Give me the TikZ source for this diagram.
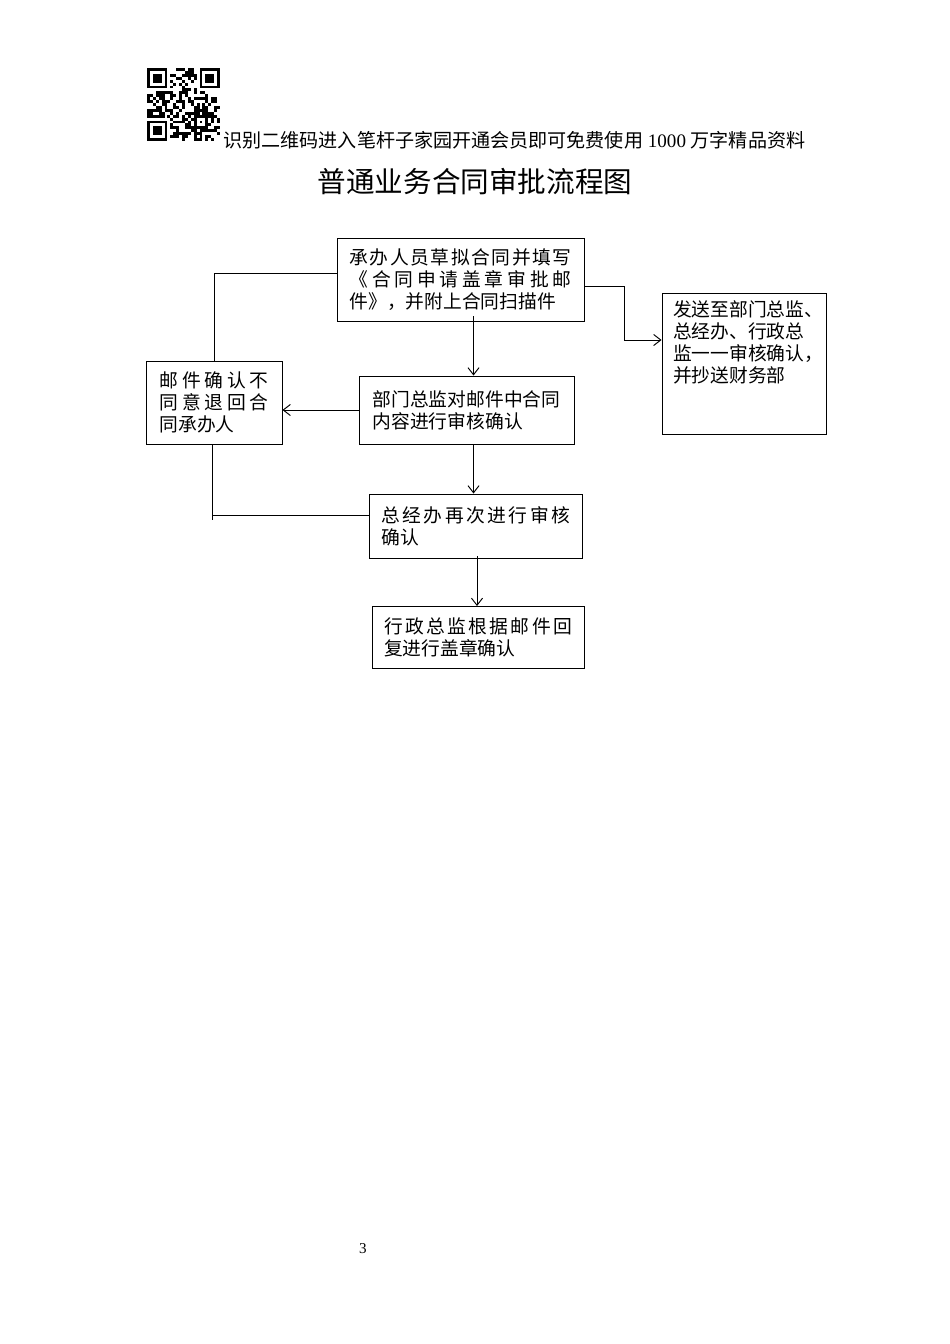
\documentclass[tikz,border=0pt]{standalone}
\usepackage{fontspec}
\setmainfont{Liberation Serif}
\newfontfamily\cjk{Noto Sans CJK SC}
\usetikzlibrary{arrows.meta,calc}

% one unit = one pixel of the page
\newdimen\pxlen \pxlen=0.02211cm
\def\spreadchars#1{\ifx#1\relax\else#1\hfil\expandafter\spreadchars\fi}
\newcommand\jline[2]{\hbox to #1\pxlen{\spreadchars#2\relax\unskip}}

\begin{document}
\begin{tikzpicture}[x=0.02211cm,y=-0.02211cm,line width=0.6pt,
  >={Straight Barb[length=4.5pt,width=7pt]},
  flowbox/.style 2 args={draw,inner sep=0pt,align=left,
    minimum width={#1*0.02211cm},minimum height={#2*0.02211cm},
    font=\cjk\fontsize{11.8pt}{13.7pt}\selectfont}]
\useasboundingbox (0,0) rectangle (950,1344);
% ---------- qr code ----------
\begin{scope}[shift={(147,68)},x=0.06456cm,y=-0.06456cm]
  \pgfmathsetseed{4711}
  \foreach \i in {0,...,24}{
    \foreach \j in {0,...,24}{
      \pgfmathtruncatemacro\reserved{((\i<8)&&(\j<8))||((\i>16)&&(\j<8))||((\i<8)&&(\j>16))||((\i>15)&&(\i<21)&&(\j>15)&&(\j<21))}
      \pgfmathrandominteger{\bit}{0}{1}
      \ifnum\reserved=0 \ifnum\bit=1 \fill (\i,\j) rectangle ++(1,1); \fi\fi
    }
  }
  \foreach \fx/\fy in {0/0,18/0,0/18}{
    \fill (\fx,\fy) rectangle ++(7,7);
    \fill[white] (\fx+1,\fy+1) rectangle ++(5,5);
    \fill (\fx+2,\fy+2) rectangle ++(3,3);
  }
  \fill (16,16) rectangle ++(5,5);
  \fill[white] (17,17) rectangle ++(3,3);
  \fill (18,18) rectangle ++(1,1);
\end{scope}
% ---------- header and title ----------
\node[anchor=west,inner sep=0pt,font=\fontsize{12pt}{14pt}\selectfont] (slogan) at (223,140)
  {{\cjk 识别二维码进入笔杆子家园开通会员即可免费使用} 1000 {\cjk 万字精品资料}};
\node[font=\cjk\fontsize{18pt}{22pt}\selectfont] (title) at (475,182) {普通业务合同审批流程图};
% ---------- boxes ----------
\node[flowbox={247}{83}] (appl) at (460.5,279.5)
  {\jline{222}{承办人员草拟合同并填写}\\\jline{222}{《合同申请盖章审批邮}\\件》，并附上合同扫描件};
\node[flowbox={164}{141},text width={142*0.02211cm}] (send) at (744,363.5)
  {发送至部门总监、\\总经办、行政总\\监一一审核确认，\\并抄送财务部\\~\\~};
\node[flowbox={215}{68}] (dept) at (466.5,410)
  {部门总监对邮件中合同\\内容进行审核确认};
\node[flowbox={136}{83}] (reject) at (214,402.5)
  {\jline{109}{邮件确认不}\\\jline{109}{同意退回合}\\同承办人};
\node[flowbox={213}{64}] (gm) at (475.75,526)
  {\jline{189}{总经办再次进行审核}\\确认};
\node[flowbox={212}{62}] (seal) at (478,637.5)
  {\jline{188}{行政总监根据邮件回}\\复进行盖章确认};
% ---------- connectors ----------
\coordinate (bendTop) at (624,286);
\coordinate (bendBot) at (624,340);
\draw[->] (appl.east |- bendTop) -- (bendTop) -- (bendBot) -- (send.west |- bendBot);
\coordinate (spineA) at (473.5,0);
\draw[->] ($(appl.south -| spineA)+(0,-5)$) -- (dept.north -| spineA);
\draw[->] (dept.west) -- (reject.east |- dept.west);
\coordinate (loopTop) at (214,273);
\draw (reject.north) -- (loopTop) -- (appl.west |- loopTop);
\coordinate (loopBot) at (212,520);
\coordinate (loopJoin) at (212,515);
\draw (reject.south -| loopBot) -- (loopBot);
\draw (loopJoin) -- (gm.west |- loopJoin);
\draw[->] (dept.south -| spineA) -- (gm.north -| spineA);
\coordinate (spineB) at (477,0);
\draw[->] ($(gm.south -| spineB)+(0,-2)$) -- (seal.north -| spineB);
% ---------- page number ----------
\node[font=\fontsize{9.5pt}{11pt}\selectfont] (pageno) at (363,1249) {3};
\end{tikzpicture}
\end{document}
